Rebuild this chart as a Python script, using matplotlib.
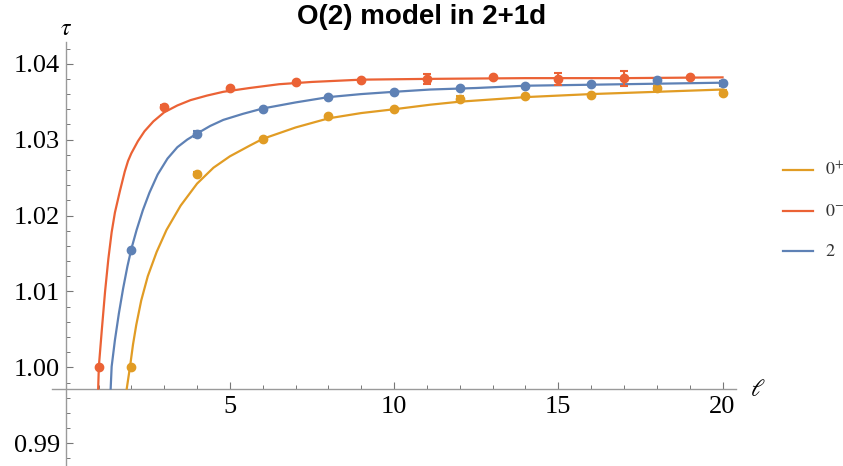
import matplotlib
matplotlib.use("Agg")
import matplotlib.pyplot as plt
from matplotlib.lines import Line2D
from matplotlib.ticker import MultipleLocator, FixedLocator

# -------------------------------
# Data
# -------------------------------
labels = ["$0^{+}$", "$0^{-}$", "$2$"]
colors = ["#E19C24", "#EB6235", "#5E81B5"]

# measured points (ell, tau, error)
l_0p = [2, 4, 6, 8, 10, 12, 14, 16, 18, 20]
tau_0p = [1.0000, 1.0255, 1.0301, 1.0331, 1.0340, 1.0354, 1.0357, 1.0359, 1.0368, 1.0362]
err_0p = [0, 0.0002, 0, 0, 0, 0.0003, 0, 0, 0.0003, 0.0003]

l_0m = [1, 3, 5, 7, 9, 11, 13, 15, 17, 19]
tau_0m = [1.0000, 1.0343, 1.0368, 1.0376, 1.0379, 1.0380, 1.0382, 1.0380, 1.0381, 1.0382]
err_0m = [0, 0.0002, 0, 0, 0, 0.0007, 0, 0.0008, 0.0010, 0]

l_2 = [2, 4, 6, 8, 10, 12, 14, 16, 18, 20]
tau_2 = [1.0154, 1.0308, 1.0340, 1.0356, 1.0363, 1.0368, 1.0371, 1.0373, 1.0379, 1.0374]
err_2 = [0, 0.0004, 0, 0, 0, 0, 0, 0, 0, 0.0003]

# fit curves
fit_l_0p = [1.86, 1.96, 2.05, 2.15, 2.30, 2.50, 2.77, 3.07, 3.50, 4.00, 4.50, 5.00, 5.60,
            6.00, 7.00, 8.00, 9.00, 10.0, 11.1, 12.0, 14.0, 16.0, 18.0, 20.0]
fit_t_0p = [0.9972, 1.0001, 1.0030, 1.0056, 1.0088, 1.0120, 1.0152, 1.0181, 1.0213, 1.0242,
            1.0263, 1.0278, 1.0292, 1.0301, 1.0316, 1.0328, 1.0335, 1.0340, 1.0346, 1.0350,
            1.0356, 1.0360, 1.0363, 1.0366]

fit_l_0m = [0.99, 1.01, 1.10, 1.20, 1.30, 1.40, 1.50, 1.65, 1.80, 1.90, 2.00, 2.20, 2.40,
            2.67, 3.00, 3.40, 3.80, 4.30, 4.80, 5.60, 6.50, 7.50, 9.00, 11.0, 14.0, 17.0, 20.0]
fit_t_0m = [0.9972, 1.0001, 1.0049, 1.0100, 1.0143, 1.0178, 1.0204, 1.0232, 1.0258, 1.0272,
            1.0282, 1.0298, 1.0311, 1.0324, 1.0336, 1.0345, 1.0352, 1.0358, 1.0363, 1.0368,
            1.0373, 1.0376, 1.0379, 1.0380, 1.0381, 1.0381, 1.0382]

fit_l_2 = [1.37, 1.40, 1.50, 1.62, 1.75, 1.88, 2.00, 2.16, 2.35, 2.55, 2.80, 3.10, 3.40,
           3.70, 4.00, 4.40, 4.80, 5.40, 6.00, 7.00, 8.00, 9.00, 10.0, 11.1, 12.5, 14.0,
           17.0, 20.0]
fit_t_2 = [0.9972, 1.0001, 1.0036, 1.0071, 1.0104, 1.0133, 1.0156, 1.0181, 1.0207, 1.0230,
           1.0254, 1.0275, 1.0290, 1.0300, 1.0308, 1.0318, 1.0326, 1.0334, 1.0341, 1.0349,
           1.0356, 1.0360, 1.0363, 1.0366, 1.0368, 1.0371, 1.0373, 1.0375]

y_ticks = [0.99, 1.00, 1.01, 1.02, 1.03, 1.04]
x_ticks = [5, 10, 15, 20]

# -------------------------------
# Figure / axes
# -------------------------------
plt.rcParams["mathtext.fontset"] = "stix"
serif = "Liberation Serif"

fig = plt.figure(figsize=(8.43, 4.66), dpi=100)
ax = fig.add_axes([0.0613, 0.0, 0.8114, 0.9092])
ax.set_xlim(-0.426, 20.40)
ax.set_ylim(0.9870, 1.04282)

axis_gray = "#9a9a9a"
for s in ["top", "right"]:
    ax.spines[s].set_visible(False)
ax.spines["left"].set_position(("data", 0))
ax.spines["bottom"].set_position(("data", 0.99714))
for s in ["left", "bottom"]:
    ax.spines[s].set_color(axis_gray)
    ax.spines[s].set_linewidth(1.0)

ax.xaxis.set_major_locator(FixedLocator(x_ticks))
ax.xaxis.set_minor_locator(MultipleLocator(1))
ax.yaxis.set_major_locator(FixedLocator(y_ticks))
ax.yaxis.set_minor_locator(MultipleLocator(0.002))
ax.set_yticklabels([f"{v:.2f}" for v in y_ticks])
ax.set_xticklabels([str(v) for v in x_ticks])

ax.tick_params(which="both", direction="in", color="#777777", labelsize=19)
ax.tick_params(which="major", length=5, width=0.8)
ax.tick_params(which="minor", length=3, width=0.7)
ax.tick_params(axis="x", pad=5)
ax.tick_params(axis="y", pad=4)
for lab in ax.get_xticklabels() + ax.get_yticklabels():
    lab.set_fontfamily(serif)

# -------------------------------
# Curves and points
# -------------------------------
series = [
    (l_0p, tau_0p, err_0p, fit_l_0p, fit_t_0p),
    (l_0m, tau_0m, err_0m, fit_l_0m, fit_t_0m),
    (l_2, tau_2, err_2, fit_l_2, fit_t_2),
]
for (lx, ty, er, fx, fy), c in zip(series, colors):
    ax.plot(fx, fy, color=c, lw=1.6, zorder=3, clip_on=True,
            solid_joinstyle="round")
    ax.errorbar(lx, ty, yerr=er, fmt="o", color=c, ms=6, elinewidth=1.5,
                capsize=3, capthick=1.5, zorder=4, clip_on=False)

# axis labels at the ends of the axes
ax.text(0, 1.0447, r"$\tau$", fontsize=17, ha="center", va="center")
ax.text(20.85, 0.99714, r"$\ell$", fontsize=17, ha="left", va="center",
        clip_on=False)

fig.text(422 / 843, 1 - 17 / 466, "O(2) model in 2+1d", fontsize=20,
         fontweight="bold", family="Liberation Sans", ha="center", va="center")

# legend
leg_y = [170, 210.5, 251]
for lab, c, yp in zip(labels, colors, leg_y):
    yf = 1 - yp / 466
    fig.add_artist(Line2D([783 / 843, 813 / 843], [yf, yf], color=c, lw=1.6))
    fig.text(825 / 843, yf, lab, fontsize=13, color="#333333", ha="left", va="center")

fig.savefig("out.png", dpi=100)
